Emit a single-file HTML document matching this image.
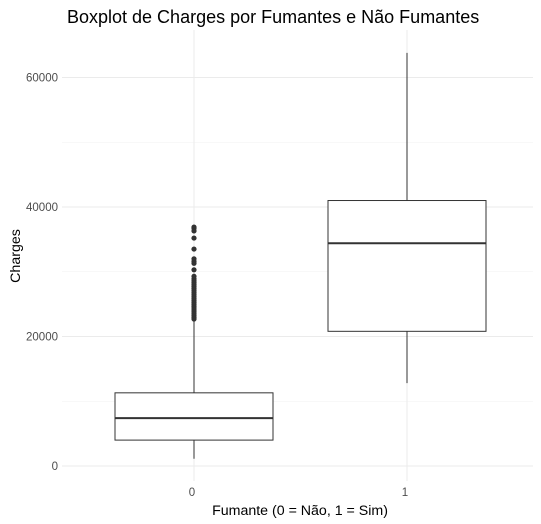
<!DOCTYPE html>
<html><head><meta charset="utf-8"><style>body{margin:0;background:#fff}svg{display:block}</style></head>
<body>
<svg id="chart" width="541" height="524" xmlns="http://www.w3.org/2000/svg" font-family="Liberation Sans, sans-serif">
<text x="67" y="23" font-size="18" fill="#000">Boxplot de Charges por Fumantes e Não Fumantes</text>
<text x="300" y="515" font-size="14.2" text-anchor="middle">Fumante (0 = Não, 1 = Sim)</text>
<text transform="translate(20,256) rotate(-90)" font-size="14.2" text-anchor="middle">Charges</text>
<g id="grid"></g><g id="ticks"></g><g id="marks"></g>
</svg>
<script>
const categories = ["0", "1"];
const yTicks = [0, 20000, 40000, 60000];
const yMinor = [10000, 30000, 50000];
const lowWhisker = [1120, 12800];
const q1 = [4000, 20800];
const median = [7400, 34400];
const q3 = [11300, 41000];
const highWhisker = [22600, 63800];
const outliers0 = [36900,36700,36300,35200,33500,32000,31600,31300,30300,29300,28900,28600,28300,28000,27700,27400,27100,26800,26500,26200,25900,25600,25300,25000,24700,24400,24100,23800,23500,23200,22900,22700];

const NS = "http://www.w3.org/2000/svg";
const X0 = 62, X1 = 533, Y0 = 30, Y1 = 496;
const y = v => 466 - v / 20000 * 129.5;
const x = i => 194 + i * 213;
const half = 79;
function mk(tag, attrs, parent) {
  const el = document.createElementNS(NS, tag);
  for (const k in attrs) el.setAttribute(k, attrs[k]);
  document.getElementById(parent).appendChild(el);
  return el;
}
yMinor.forEach(v => {
  const l = mk("line", {x1: X0, x2: X1, y1: y(v), y2: y(v), stroke: "#f2f2f2", "stroke-width": 0.6}, "grid");
  
  
});
yTicks.forEach(v => {
  const l = mk("line", {x1: X0, x2: X1, y1: y(v), y2: y(v), stroke: "#ebebeb", "stroke-width": 1}, "grid");
  
  
  const t = mk("text", {x: 58, y: y(v) + 4, "font-size": 11.5, fill: "#4d4d4d", "text-anchor": "end"}, "ticks");
  t.textContent = v;
  
  
});
categories.forEach((c, i) => {
  const l = mk("line", {x1: x(i), x2: x(i), y1: Y0, y2: Y1 - 15, stroke: "#ebebeb", "stroke-width": 1}, "grid");
  
  
  const t = mk("text", {x: x(i) - 2, y: 496, "font-size": 11.5, fill: "#4d4d4d", "text-anchor": "middle"}, "ticks");
  t.textContent = c;
  
  
  const w1 = mk("line", {x1: x(i), x2: x(i), y1: y(lowWhisker[i]), y2: y(q1[i]), stroke: "#333", "stroke-width": 1}, "marks");
  
  
  const w2 = mk("line", {x1: x(i), x2: x(i), y1: y(q3[i]), y2: y(highWhisker[i]), stroke: "#333", "stroke-width": 1}, "marks");
  
  
  const b = mk("rect", {x: x(i) - half, y: y(q3[i]), width: half * 2, height: y(q1[i]) - y(q3[i]), fill: "#fff", stroke: "#333", "stroke-width": 1}, "marks");
  
  
  const m = mk("line", {x1: x(i) - half, x2: x(i) + half, y1: y(median[i]), y2: y(median[i]), stroke: "#333", "stroke-width": 2}, "marks");
  
  
});
outliers0.forEach(v => {
  const p = mk("circle", {cx: x(0), cy: y(v), r: 2.6, fill: "#333"}, "marks");
  
  
});
</script>
</body></html>
